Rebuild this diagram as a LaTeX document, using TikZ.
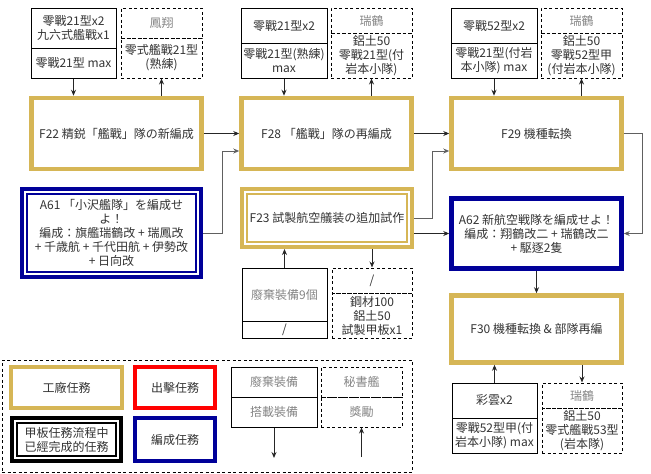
\documentclass[tikz,border=0pt]{standalone}
\usepackage{fontspec}
\setmainfont{Noto Sans CJK TC}
\usepackage{tikz}
\usetikzlibrary{calc,arrows.meta}
\definecolor{ink}{HTML}{333333}
\definecolor{muted}{HTML}{858585}
\definecolor{gold}{HTML}{D6B656}
\definecolor{navy}{HTML}{000099}
\definecolor{wire}{HTML}{606060}
\tikzset{
  sz/.style 2 args={minimum width=#1pt, minimum height=#2pt},
  lab/.style={text=ink, align=center, font=\fontsize{12}{14}\selectfont, inner sep=1pt},
  cell/.style={lab, draw=black, line width=1pt},
  dcell/.style={cell, dash pattern=on 3pt off 2.5pt},
  goldbox/.style={lab, draw=gold, line width=4.5pt},
  bluebox/.style={lab, draw=navy, line width=4.5pt},
  redbox/.style={lab, draw=red, line width=4pt},
  outerline/.style={lab, draw=#1, line width=4pt},
  innerline/.style={draw=#1, line width=1.6pt},
  arr/.style={draw=black!85, line width=1pt, -{Stealth[length=6pt,width=5pt]}},
  elbow/.style={arr, draw=wire},
}

\begin{document}
\begin{tikzpicture}[x=1pt,y=-1pt]
  \useasboundingbox (0,0) rectangle (651,474);
  \node[cell,sz={85}{40}] (k1a) at (73.5,28) {零戰21型x2\\九六式艦戰x1};
  \node[cell,sz={85}{30}] (k1b) at (73.5,63) {零戰21型 max};
  \node[dcell,sz={81}{30},text=muted] (h1a) at (161.5,23) {鳳翔};
  \node[dcell,sz={81}{40}] (h1b) at (161.5,58) {零式艦戰21型\\(熟練)};
  \node[goldbox,sz={170}{71}] (f22) at (116.5,133.5) {F22 精鋭「艦戰」隊の新編成};

  \node[cell,sz={86}{35}] (k2a) at (284,25.5) {零戰21型x2};
  \node[cell,sz={86}{35}] (k2b) at (284,60.5) {零戰21型(熟練)\\max};
  \node[dcell,sz={81}{25},text=muted] (h2a) at (371.5,20.5) {瑞鶴};
  \node[dcell,sz={81}{45}] (h2b) at (371.5,55.5) {鋁土50\\零戰21型(付\\岩本小隊)};
  \node[goldbox,sz={170}{71}] (f28) at (326.5,133.5) {F28 「艦戰」隊の再編成};

  \node[cell,sz={86}{35}] (k3a) at (494,25.5) {零戰52型x2};
  \node[cell,sz={86}{35}] (k3b) at (494,60.5) {零戰21型(付岩\\本小隊) max};
  \node[dcell,sz={81}{25},text=muted] (h3a) at (581.5,20.5) {瑞鶴};
  \node[dcell,sz={81}{45}] (h3b) at (581.5,55.5) {鋁土50\\零戰52型甲\\(付岩本小隊)};
  \node[goldbox,sz={170}{71}] (f29) at (536.5,133.5) {F29 機種転換};

  \node[outerline=navy,sz={179}{88}] (a61) at (111.5,233) {A61 「小沢艦隊」を編成せ\\よ！\\編成：旗艦瑞鶴改 + 瑞鳳改\\+ 千歳航 + 千代田航 + 伊勢改\\+ 日向改};
  \node[innerline=navy,sz={169.5}{78.5}] (a61in) at (a61.center) {};

  \node[outerline=gold,sz={170}{58}] (f23) at (327,218) {F23 試製航空艤装の追加試作};
  \node[innerline=gold,sz={160.5}{48.5}] (f23in) at (f23.center) {};

  \node[cell,sz={85}{53},text=muted] (w23a) at (284.5,294.5) {廢棄裝備9個};
  \node[cell,sz={85}{17}] (w23b) at (284.5,329.5) {/};
  \node[dcell,sz={80}{25}] (r23a) at (372,280.5) {/};
  \node[dcell,sz={80}{45}] (r23b) at (372,315.5) {鋼材100\\鋁土50\\試製甲板x1};

  \node[bluebox,sz={170}{70}] (a62) at (536.5,233.5) {A62 新航空戦隊を編成せよ！\\編成：翔鶴改二 + 瑞鶴改二\\+ 駆逐2隻};
  \node[goldbox,sz={170}{67}] (f30) at (536.5,329) {F30 機種転換 \& 部隊再編};

  \node[cell,sz={85}{35}] (w30a) at (494.5,400.5) {彩雲x2};
  \node[cell,sz={85}{35}] (w30b) at (494.5,435.5) {零戰52型甲(付\\岩本小隊) max};
  \node[dcell,sz={80}{25},text=muted] (r30a) at (582,395.5) {瑞鶴};
  \node[dcell,sz={80}{45}] (r30b) at (582,430.5) {鋁土50\\零式艦戰53型\\(岩本隊)};

  \node[dcell,sz={410}{112}] (key) at (207,416) {};
  \node[goldbox,sz={111}{41}] (kgold) at (66.5,387.5) {工廠任務};
  \node[redbox,sz={80}{41}] (kred) at (175,387.5) {出擊任務};
  \node[outerline=black,sz={109}{43}] (kdone) at (66.5,439.5) {甲板任務流程中\\已經完成的任務};
  \node[innerline=black,sz={99.5}{33.5}] (kdonein) at (kdone.center) {};
  \node[bluebox,sz={80}{43}] (kblue) at (175,439.5) {編成任務};
  \node[cell,sz={86}{30},text=muted] (kin) at (274,382) {廢棄裝備};
  \node[cell,sz={86}{30},text=muted] (kuse) at (274,412) {搭載裝備};
  \node[dcell,sz={81}{30},text=muted] (ksec) at (361.5,382) {秘書艦};
  \node[dcell,sz={81}{30},text=muted] (krew) at (361.5,412) {獎勵};

  \coordinate (j1) at (222,151);
  \coordinate (j2) at (432,151);
  \coordinate (j3) at (642,133.5);
  \coordinate (e1) at (274,458);
  \coordinate (e2) at (361.5,457);

  \draw[arr] (k1b.south) -- (k1b.south |- f22.north);
  \draw[arr] (h1b.south |- f22.north) -- (h1b.south);
  \draw[arr] (k2b.south) -- (k2b.south |- f28.north);
  \draw[arr] (h2b.south |- f28.north) -- (h2b.south);
  \draw[arr] (k3b.south) -- (k3b.south |- f29.north);
  \draw[arr] (h3b.south |- f29.north) -- (h3b.south);
  \draw[arr] (f22.east) -- (f28.west);
  \draw[arr] (f28.east) -- (f29.west);
  \draw[elbow] (a61.east) -| (j1) -- (j1 -| f28.west);
  \draw[elbow] (f23.east) -| (j2) -- (j2 -| f29.west);
  \draw[arr] (f23.east |- a62.west) -- (a62.west);
  \draw[elbow] (f29.east) -- (j3) |- (a62.east);
  \draw[arr] (a62.south) -- (f30.north);
  \draw[arr] (w23a.north) -- (w23a.north |- f23.south);
  \draw[arr] (f23.south -| r23a.north) -- (r23a.north);
  \draw[arr] (w30a.north) -- (w30a.north |- f30.south);
  \draw[arr] (f30.south -| r30a.north) -- (r30a.north);
  \draw[arr] (kuse.south) -- (e1);
  \draw[arr] (e2) -- (krew.south);
\end{tikzpicture}
\end{document}
